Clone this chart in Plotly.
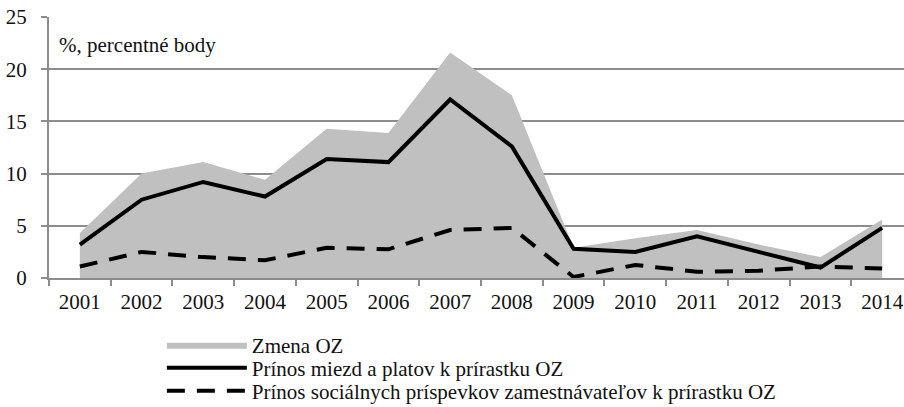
import plotly.graph_objects as go

years = ["2001", "2002", "2003", "2004", "2005", "2006", "2007",
         "2008", "2009", "2010", "2011", "2012", "2013", "2014"]
zmena_oz = [4.3, 10.0, 11.1, 9.4, 14.3, 13.9, 21.6, 17.5, 2.9, 3.8, 4.6, 3.2, 2.0, 5.6]
prinos_miezd = [3.2, 7.5, 9.2, 7.8, 11.4, 11.1, 17.1, 12.6, 2.8, 2.5, 4.0, 2.5, 1.0, 4.8]
prinos_soc = [1.1, 2.5, 2.0, 1.7, 2.9, 2.75, 4.6, 4.8, 0.1, 1.25, 0.6, 0.7, 1.1, 0.9]
y_ticks = [0, 5, 10, 15, 20, 25]

FONT = "Liberation Serif, Times New Roman, serif"
FS = 21

fig = go.Figure()
fig.add_trace(go.Scatter(
    x=years, y=zmena_oz, name="Zmena OZ", mode="lines",
    line=dict(width=0, color="#c0c0c0"), fill="tozeroy", fillcolor="#c0c0c0",
    legend="legend",
))
fig.add_trace(go.Scatter(
    x=years, y=prinos_miezd, name="Prínos miezd a platov k prírastku OZ",
    mode="lines", line=dict(color="black", width=4), legend="legend2",
))
fig.add_trace(go.Scatter(
    x=years, y=prinos_soc,
    name="Prínos sociálnych príspevkov zamestnávateľov k prírastku OZ",
    mode="lines", line=dict(color="black", width=4, dash="18px,12px"),
    legend="legend3",
))

leg_common = dict(
    xanchor="left", yanchor="middle", orientation="v",
    font=dict(size=FS, family=FONT, color="#111"),
    itemwidth=80, bgcolor="rgba(0,0,0,0)", borderwidth=0,
)

fig.update_layout(
    width=904, height=407,
    margin=dict(l=49, r=0, t=17, b=129, autoexpand=False),
    paper_bgcolor="white", plot_bgcolor="white",
    font=dict(family=FONT, size=FS, color="#111"),
    showlegend=True,
    legend=dict(x=0.132, y=-0.257, **leg_common),
    legend2=dict(x=0.132, y=-0.345, **leg_common),
    legend3=dict(x=0.132, y=-0.433, **leg_common),
    xaxis=dict(
        type="category", range=[-0.5, 13.354], automargin=False,
        showgrid=False, showline=True, linecolor="#8c8c8c", linewidth=2,
        ticks="outside", tickson="boundaries", ticklen=6, tickcolor="#8c8c8c",
        tickwidth=1.5, tickfont=dict(size=FS, family=FONT), ticklabelstandoff=4,
        zeroline=False,
    ),
    yaxis=dict(
        range=[0, 25], tickvals=y_ticks, showgrid=True, gridcolor="#8c8c8c",
        gridwidth=2, showline=True, linecolor="#8c8c8c", linewidth=2,
        automargin=False,
        ticks="outside", ticklen=6, tickcolor="#8c8c8c", tickwidth=1.5,
        tickfont=dict(size=FS, family=FONT), zeroline=False, ticklabelstandoff=10,
    ),
    annotations=[dict(
        text="%, percentné body", x=0.009, y=0.893, xref="paper", yref="paper",
        xanchor="left", yanchor="middle", showarrow=False,
        font=dict(size=FS, family=FONT, color="#111"),
    )],
)

fig.write_html(
    "out.html",
    config={"displayModeBar": False},
    post_script="document.body.style.margin='0';document.body.style.overflow='hidden';",
)
